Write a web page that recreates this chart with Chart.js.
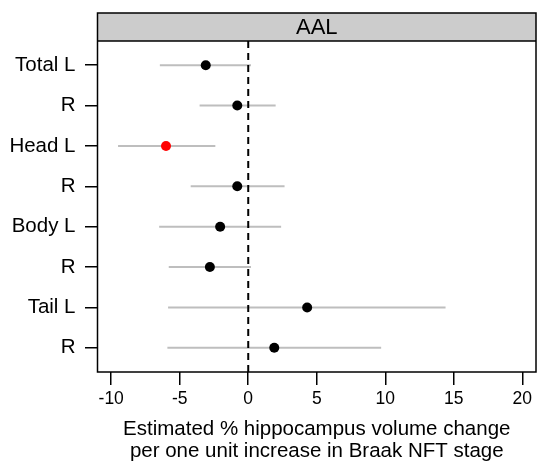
<!DOCTYPE html>
<html><head><meta charset="utf-8">
<script src="https://cdn.jsdelivr.net/npm/chart.js@4/dist/chart.umd.min.js"></script>
<style>html,body{margin:0;padding:0;background:#fff;}</style>
</head><body>
<canvas id="c" width="541" height="463"></canvas>
<script>
const panelTitle = "AAL";
const categories = ["Total L", "R", "Head L", "R", "Body L", "R", "Tail L", "R"];
const estimates = [-3.1, -0.8, -6.0, -0.8, -2.05, -2.8, 4.3, 1.9];
const lowerCI = [-6.45, -3.55, -9.5, -4.2, -6.5, -5.8, -5.85, -5.9];
const upperCI = [0.2, 2.0, -2.4, 2.65, 2.4, 0.2, 14.4, 9.7];
const highlight = [false, false, true, false, false, false, false, false];
const xTicks = [-10, -5, 0, 5, 10, 15, 20];
const xTitle = ["Estimated % hippocampus volume change", "per one unit increase in Braak NFT stage"];

const FONT = '"Liberation Sans", Arial, sans-serif';
const rowPos = categories.map((_, i) => i + 1);

const datasets = [];
// points
datasets.push({
  data: estimates.map((v, i) => ({x: v, y: rowPos[i]})),
  pointRadius: 5,
  pointHoverRadius: 5,
  pointBorderWidth: 0,
  pointBackgroundColor: highlight.map(h => h ? '#FF0000' : '#000000'),
  pointBorderColor: highlight.map(h => h ? '#FF0000' : '#000000'),
  showLine: false,
  order: 0
});
// zero reference line
datasets.push({
  data: [{x: 0, y: 0.4}, {x: 0, y: 8.6}],
  showLine: true,
  borderColor: '#000000',
  borderWidth: 2,
  borderDash: [7, 5],
  pointRadius: 0,
  order: 1
});
// CI lines
categories.forEach((c, i) => {
  datasets.push({
    data: [{x: lowerCI[i], y: rowPos[i]}, {x: upperCI[i], y: rowPos[i]}],
    showLine: true,
    borderColor: '#BEBEBE',
    borderWidth: 2,
    pointRadius: 0,
    order: 2
  });
});

const stripPlugin = {
  id: 'strip',
  beforeDraw(chart) {
    const {ctx, chartArea: a} = chart;
    ctx.save();
    ctx.fillStyle = '#CCCCCC';
    ctx.fillRect(a.left, a.top - 28, a.right - a.left, 28);
    ctx.fillStyle = '#000';
    ctx.font = '22px ' + FONT;
    ctx.textAlign = 'center';
    ctx.textBaseline = 'middle';
    ctx.fillText(panelTitle, (a.left + a.right) / 2, a.top - 14 + 1);
    ctx.restore();
  },
  afterDraw(chart) {
    const {ctx, chartArea: a} = chart;
    ctx.save();
    ctx.strokeStyle = '#000';
    ctx.lineWidth = 1.5;
    ctx.strokeRect(a.left, a.top - 28, a.right - a.left, a.bottom - a.top + 28);
    ctx.beginPath();
    ctx.moveTo(a.left, a.top);
    ctx.lineTo(a.right, a.top);
    ctx.stroke();
    ctx.restore();
  }
};

new Chart(document.getElementById('c'), {
  type: 'scatter',
  data: {datasets},
  options: {
    responsive: false,
    devicePixelRatio: 1,
    animation: false,
    events: [],
    layout: {padding: {top: 41, right: 1, left: 0, bottom: 0}},
    plugins: {legend: {display: false}, tooltip: {enabled: false}},
    scales: {
      x: {
        type: 'linear',
        min: -11, max: 21,
        afterBuildTicks: s => { s.ticks = xTicks.map(v => ({value: v})); },
        afterFit: s => { s.height = 91; },
        grid: {drawOnChartArea: false, drawTicks: true, tickLength: 13, color: '#000', lineWidth: 1.5},
        border: {display: false},
        ticks: {color: '#000', font: {family: FONT, size: 17.5}, padding: 4, maxRotation: 0},
        title: {display: true, text: xTitle, color: '#000', font: {family: FONT, size: 20.5, lineHeight: 1.1}, padding: {top: 0, bottom: 0}}
      },
      y: {
        type: 'linear',
        min: 0.4, max: 8.6,
        reverse: true,
        afterBuildTicks: s => { s.ticks = rowPos.map(v => ({value: v})); },
        afterFit: s => { s.width = 97.5; },
        grid: {drawOnChartArea: false, drawTicks: true, tickLength: 12.5, color: '#000', lineWidth: 1.5},
        border: {display: false},
        ticks: {color: '#000', font: {family: FONT, size: 20.5}, padding: 9.5,
          callback: v => categories[Math.round(v) - 1]}
      }
    }
  },
  plugins: [stripPlugin]
});
</script>
</body></html>
